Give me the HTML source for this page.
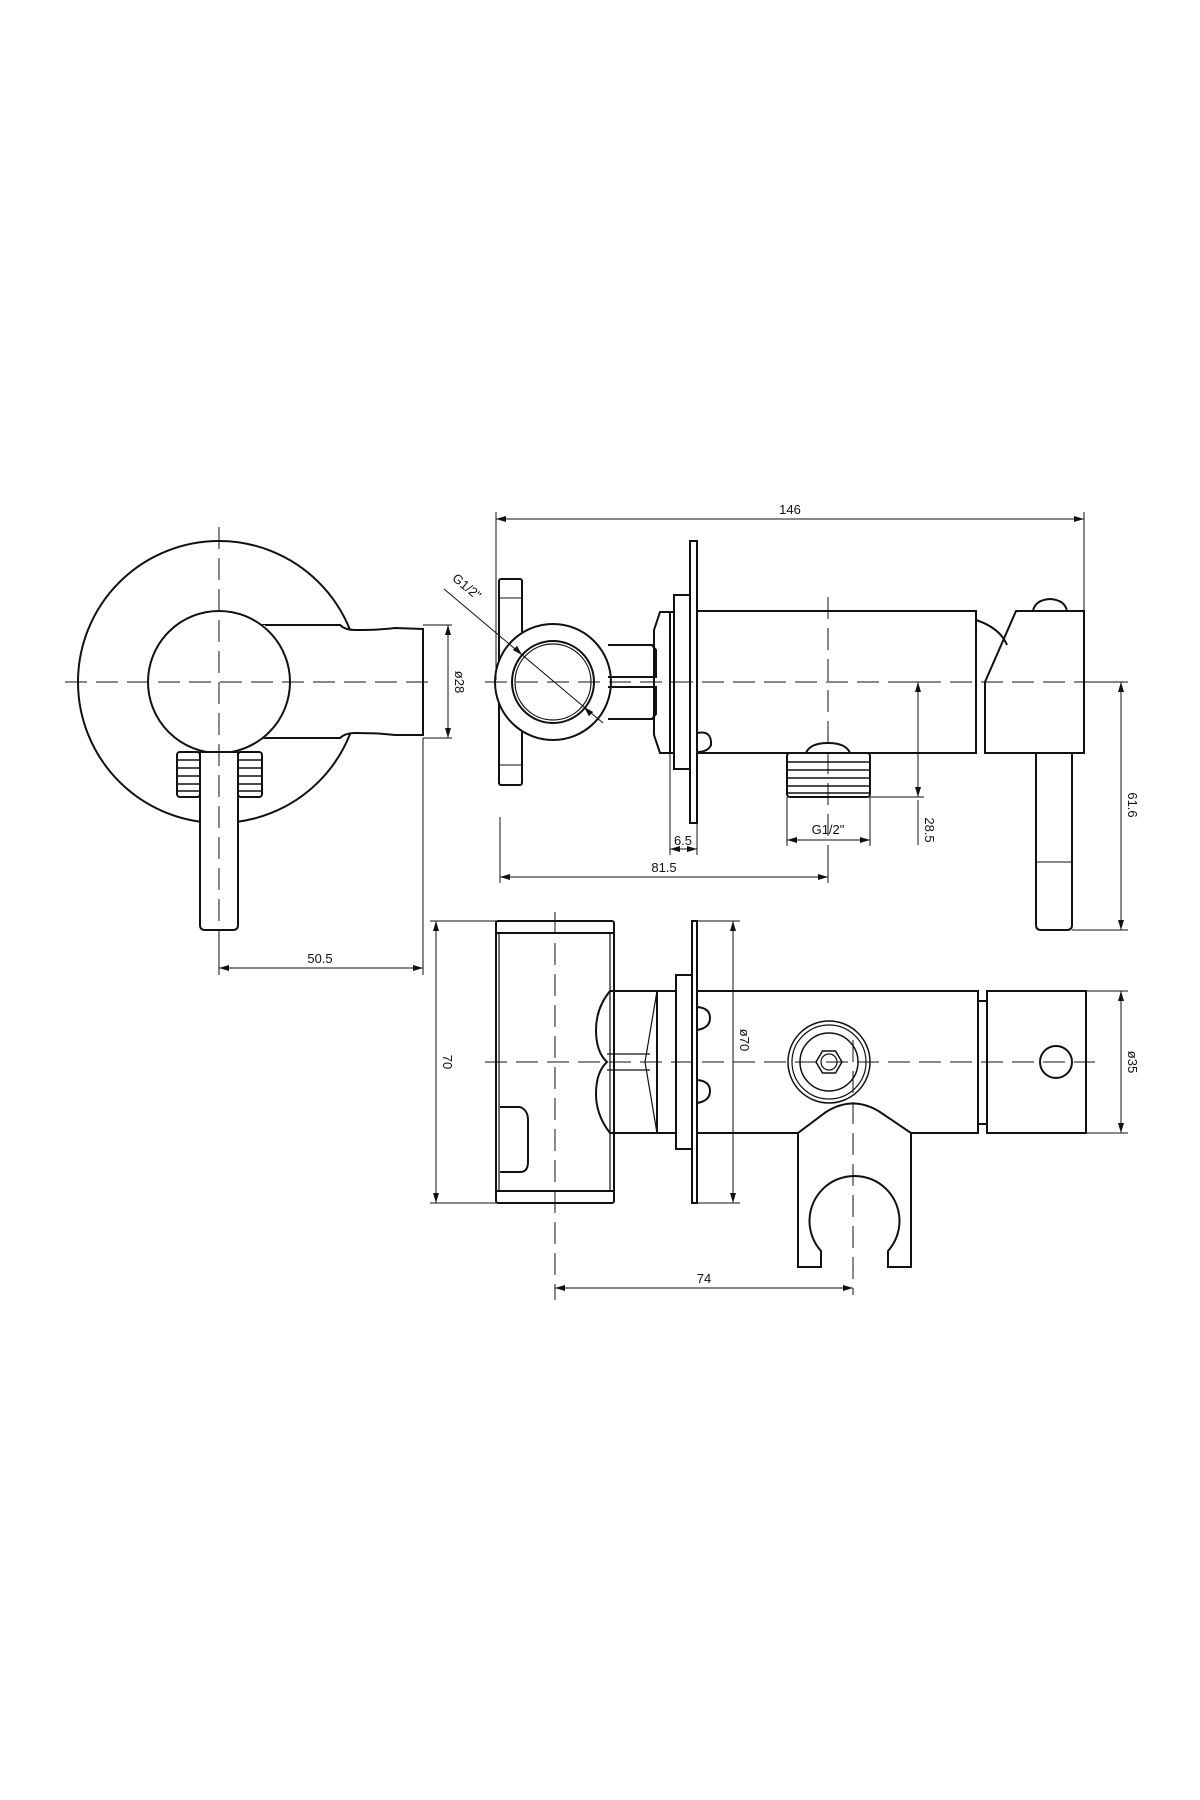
<!DOCTYPE html>
<html><head><meta charset="utf-8"><style>
html,body{margin:0;padding:0;background:#fff}
svg{display:block}
text{font-family:"Liberation Sans",sans-serif;font-size:13px;fill:#111}
</style></head><body>
<svg width="1200" height="1800" viewBox="0 0 1200 1800" xmlns="http://www.w3.org/2000/svg">
<defs>
<marker id="a" viewBox="0 0 10 6" refX="10" refY="3" markerWidth="10" markerHeight="6" orient="auto-start-reverse" markerUnits="userSpaceOnUse"><path d="M0,0 L10,3 L0,6 z" fill="#111"/></marker>
</defs>
<g fill="none" stroke="#111">
<!-- LEFT VIEW shapes -->
<g stroke-width="2">
<circle cx="219" cy="682" r="141"/>
<path d="M263,625 L340,625 Q345,630 355,630 Q380,630 395,628 L423,629 L423,735 L395,735 Q380,733 355,733 Q345,733 340,738 L263,738 Z" fill="#fff"/>
<line x1="263" y1="625" x2="263" y2="738" stroke="#fff" stroke-width="4"/>
<circle cx="219" cy="682" r="71" fill="#fff"/>
<rect x="177" y="752" width="23" height="45" rx="3" fill="#fff"/>
<rect x="238" y="752" width="24" height="45" rx="3" fill="#fff"/>
<path d="M200,752 L200,925 Q200,930 205,930 L233,930 Q238,930 238,925 L238,752 Z" fill="#fff"/>
</g>
<g stroke-width="1.5">
<line x1="177" y1="760" x2="200" y2="760"/><line x1="177" y1="768" x2="200" y2="768"/><line x1="177" y1="776" x2="200" y2="776"/><line x1="177" y1="784" x2="200" y2="784"/><line x1="177" y1="791" x2="200" y2="791"/>
<line x1="238" y1="760" x2="262" y2="760"/><line x1="238" y1="768" x2="262" y2="768"/><line x1="238" y1="776" x2="262" y2="776"/><line x1="238" y1="784" x2="262" y2="784"/><line x1="238" y1="791" x2="262" y2="791"/>
</g>

<!-- MIDDLE VIEW -->
<g stroke-width="2">
<rect x="499" y="579" width="23" height="206" rx="2"/>
<line x1="499" y1="598" x2="522" y2="598" stroke-width="1"/>
<line x1="499" y1="765" x2="522" y2="765" stroke-width="1"/>
<circle cx="553" cy="682" r="58" fill="#fff"/>
<circle cx="553" cy="682" r="41"/>
<circle cx="553" cy="682" r="38" stroke-width="1.2"/>
<path d="M608,645 L652,645 L656,650 L656,677 L608,677"/>
<path d="M608,719 L652,719 L656,714 L656,687 L608,687"/>
<path d="M670,612 L660,612 L654,630 L654,735 L660,753 L670,753 Z"/>
<rect x="670" y="612" width="4" height="141"/>
<rect x="674" y="595" width="16" height="174"/>
<rect x="690" y="541" width="7" height="282"/>
<rect x="697" y="611" width="279" height="142"/>
<path d="M697,733 Q712,730 711,745 Q708,752 697,752"/>
<path d="M976,620 Q1000,628 1007,645"/>
<path d="M1016,611 L1084,611 L1084,753 L985,753 L985,682 Z"/>
<path d="M1033,611 Q1035,600 1050,599 Q1065,600 1067,611"/>
<path d="M1036,753 L1036,925 Q1036,930 1041,930 L1067,930 Q1072,930 1072,925 L1072,753"/>
<line x1="1036" y1="862" x2="1072" y2="862" stroke-width="1"/>
<path d="M806,753 Q810,743 828,743 Q846,743 850,753"/>
<rect x="787" y="753" width="83" height="44" rx="3"/>
</g>
<g stroke-width="1.5">
<line x1="787" y1="762" x2="870" y2="762"/><line x1="787" y1="770" x2="870" y2="770"/><line x1="787" y1="778" x2="870" y2="778"/><line x1="787" y1="786" x2="870" y2="786"/><line x1="787" y1="793" x2="870" y2="793"/>
</g>

<!-- BOTTOM VIEW -->
<g stroke-width="2">
<rect x="496" y="921" width="118" height="282" rx="2"/>
<line x1="496" y1="933" x2="614" y2="933"/>
<line x1="496" y1="1191" x2="614" y2="1191"/>
<line x1="499" y1="933" x2="499" y2="1191" stroke-width="1.2"/>
<line x1="610" y1="933" x2="610" y2="1191" stroke-width="1.2"/>
<path d="M500,1107 L520,1107 Q528,1110 528,1120 L528,1162 Q528,1172 520,1172 L500,1172"/>
<path d="M610,991 L657,991 L657,1133 L610,1133 Q596,1115 596,1094 Q596,1072 607,1062 Q596,1052 596,1030 Q596,1008 610,991"/>
<line x1="607" y1="1054" x2="650" y2="1054" stroke-width="1.2"/><line x1="607" y1="1070" x2="650" y2="1070" stroke-width="1.2"/>
<line x1="657" y1="991" x2="645" y2="1062" stroke-width="1.2"/><line x1="657" y1="1133" x2="645" y2="1062" stroke-width="1.2"/>
<rect x="657" y="991" width="19" height="142"/>
<rect x="676" y="975" width="16" height="174"/>
<rect x="692" y="921" width="5" height="282"/>
<rect x="697" y="991" width="281" height="142"/>
<path d="M697,1007 Q710,1008 710,1018 Q710,1028 697,1030"/>
<path d="M697,1080 Q710,1081 710,1091 Q710,1101 697,1103"/>
<circle cx="829" cy="1062" r="41" stroke-width="1.5"/>
<circle cx="829" cy="1062" r="37" stroke-width="1.2"/>
<circle cx="829" cy="1062" r="29" stroke-width="1.5"/>
<polygon points="842,1062 835.5,1073 822.5,1073 816,1062 822.5,1051 835.5,1051" stroke-width="1.5"/>
<circle cx="829" cy="1062" r="8" stroke-width="1.2"/>
<path d="M798,1267 L798,1133 L826,1112 Q853,1095 880,1112 L911,1133 L911,1267 L888,1267 L888,1251 A45,45 0 1 0 821,1251 L821,1267 Z" fill="#fff"/>
<line x1="978" y1="1001" x2="987" y2="1001"/><line x1="978" y1="1124" x2="987" y2="1124"/>
<rect x="987" y="991" width="99" height="142"/>
<circle cx="1056" cy="1062" r="16"/>
</g>

<!-- centerlines -->
<g stroke-width="1" stroke-dasharray="22,9">
<line x1="219" y1="527" x2="219" y2="963"/>
<line x1="65" y1="682" x2="437" y2="682"/>
<line x1="485" y1="682" x2="1125" y2="682"/>
<line x1="828" y1="597" x2="828" y2="883"/>
<line x1="555" y1="912" x2="555" y2="1300"/>
<line x1="485" y1="1062" x2="1095" y2="1062"/>
<line x1="853" y1="1040" x2="853" y2="1295"/>
</g>

<!-- dims -->
<g stroke-width="1">
<line x1="423" y1="625" x2="452" y2="625"/><line x1="423" y1="738" x2="452" y2="738"/>
<line x1="448" y1="625" x2="448" y2="738" marker-start="url(#a)" marker-end="url(#a)"/>
<line x1="423" y1="738" x2="423" y2="975"/>
<line x1="219" y1="930" x2="219" y2="975"/>
<line x1="219" y1="968" x2="423" y2="968" marker-start="url(#a)" marker-end="url(#a)"/>

<line x1="496" y1="512" x2="496" y2="680"/>
<line x1="1084" y1="512" x2="1084" y2="611"/>
<line x1="496" y1="519" x2="1084" y2="519" marker-start="url(#a)" marker-end="url(#a)"/>
<line x1="444" y1="589" x2="603" y2="723"/>
<line x1="520" y1="653" x2="522" y2="655" marker-end="url(#a)"/>
<line x1="584" y1="707" x2="586" y2="709" marker-start="url(#a)"/>
<line x1="1084" y1="682" x2="1128" y2="682"/>
<line x1="1072" y1="930" x2="1128" y2="930"/>
<line x1="1121" y1="682" x2="1121" y2="930" marker-start="url(#a)" marker-end="url(#a)"/>
<line x1="906" y1="682" x2="930" y2="682"/>
<line x1="870" y1="797" x2="924" y2="797"/>
<line x1="918" y1="682" x2="918" y2="797" marker-start="url(#a)" marker-end="url(#a)"/>
<line x1="918" y1="800" x2="918" y2="845"/>
<line x1="787" y1="797" x2="787" y2="846"/><line x1="870" y1="797" x2="870" y2="846"/>
<line x1="787" y1="840" x2="870" y2="840" marker-start="url(#a)" marker-end="url(#a)"/>
<line x1="670" y1="753" x2="670" y2="855"/><line x1="697" y1="823" x2="697" y2="855"/>
<line x1="670" y1="849" x2="697" y2="849" marker-start="url(#a)" marker-end="url(#a)"/>
<line x1="500" y1="817" x2="500" y2="883"/><line x1="828" y1="850" x2="828" y2="883"/>
<line x1="500" y1="877" x2="828" y2="877" marker-start="url(#a)" marker-end="url(#a)"/>

<line x1="430" y1="921" x2="496" y2="921"/><line x1="430" y1="1203" x2="496" y2="1203"/>
<line x1="436" y1="921" x2="436" y2="1203" marker-start="url(#a)" marker-end="url(#a)"/>
<line x1="697" y1="921" x2="740" y2="921"/><line x1="697" y1="1203" x2="740" y2="1203"/>
<line x1="733" y1="921" x2="733" y2="1203" marker-start="url(#a)" marker-end="url(#a)"/>
<line x1="1086" y1="991" x2="1128" y2="991"/><line x1="1086" y1="1133" x2="1128" y2="1133"/>
<line x1="1121" y1="991" x2="1121" y2="1133" marker-start="url(#a)" marker-end="url(#a)"/>
<line x1="555" y1="1288" x2="853" y2="1288" marker-start="url(#a)" marker-end="url(#a)"/>
</g>
</g>

<!-- labels -->
<text x="320" y="963" text-anchor="middle">50.5</text>
<text transform="translate(455,682) rotate(90)" text-anchor="middle">ø28</text>
<text x="790" y="514" text-anchor="middle">146</text>
<text transform="translate(464,590) rotate(40)" text-anchor="middle">G1/2"</text>
<text x="683" y="845" text-anchor="middle">6.5</text>
<text x="664" y="872" text-anchor="middle">81.5</text>
<text x="828" y="834" text-anchor="middle">G1/2"</text>
<text transform="translate(925,830) rotate(90)" text-anchor="middle">28.5</text>
<text transform="translate(1128,805) rotate(90)" text-anchor="middle">61.6</text>
<text transform="translate(443,1062) rotate(90)" text-anchor="middle">70</text>
<text transform="translate(740,1040) rotate(90)" text-anchor="middle">ø70</text>
<text transform="translate(1128,1062) rotate(90)" text-anchor="middle">ø35</text>
<text x="704" y="1283" text-anchor="middle">74</text>
</svg>
</body></html>
